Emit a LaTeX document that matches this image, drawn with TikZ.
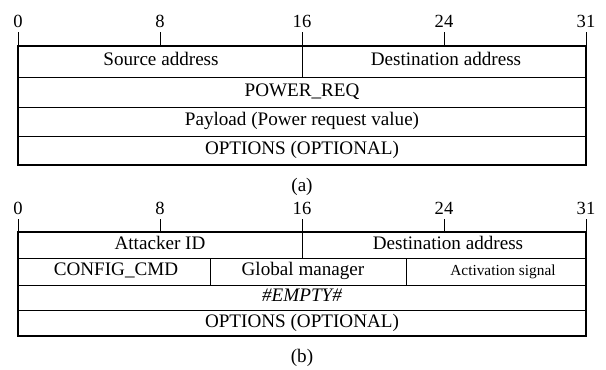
\documentclass[tikz,border=0pt]{standalone}
\usepackage{fontspec}
\setmainfont{Liberation Serif}
\usetikzlibrary{positioning}

\begin{document}
\begin{tikzpicture}[
    x=0.025cm, y=-0.025cm,
    frame/.style={draw, line width=1.6pt},
    rule/.style={draw, line width=0.6pt},
    cell/.style={inner sep=0pt, font=\fontsize{13.6}{15}\selectfont, text height=0.66em, text depth=0.08em},
    small/.style={cell, font=\fontsize{10.9}{12}\selectfont},
    bit/.style={inner sep=0pt, font=\fontsize{13.2}{15}\selectfont},
    caption/.style={inner sep=0pt, font=\fontsize{13.6}{15}\selectfont}
]
\useasboundingbox (0,0) rectangle (606,369);

% (a) power request frame
\foreach \b/\t in {0/0,8/8,16/16,24/24,32/31} {
    \draw[rule] (18+17.75*\b,32) -- (18+17.75*\b,46);
    \node[bit] (abit\b) at (18+17.75*\b,21) {\t};
}
\draw[frame] (18,46) rectangle (586,165);
\foreach \y in {77,107,136}
    \draw[rule] (18,\y) -- (586,\y);
\draw[rule] (302,46) -- (302,77);

\node[cell] (asrc) at (161,61.5) {Source address};
\node[cell] (adst) at (446,61.5) {Destination address};
\node[cell] (areq) at (302,92) {POWER\_REQ};
\node[cell] (apay) at (302,121.5) {Payload (Power request value)};
\node[cell] (aopt) at (302,150.5) {OPTIONS (OPTIONAL)};
\node[caption] (capa) at (302,187) {(a)};

% (b) attack frame
\foreach \b/\t in {0/0,8/8,16/16,24/24,32/31} {
    \draw[rule] (18+17.75*\b,219) -- (18+17.75*\b,232);
    \node[bit] (bbit\b) at (18+17.75*\b,208) {\t};
}
\draw[frame] (18,232) rectangle (586,336);
\foreach \y in {258,285,310}
    \draw[rule] (18,\y) -- (586,\y);
\draw[rule] (302,232) -- (302,258);
\draw[rule] (210,258) -- (210,285);
\draw[rule] (406,258) -- (406,285);

\node[cell] (batk) at (160,245) {Attacker ID};
\node[cell] (bdst) at (448,245) {Destination address};
\node[cell] (bcfg) at (116,271.5) {CONFIG\_CMD};
\node[cell] (bglb) at (303,271.5) {Global manager};
\node[small] (bact) at (503,271.5) {Activation signal};
\node[cell] (bemp) at (302,297.5) {\itshape \#EMPTY\#};
\node[cell] (bopt) at (302,323) {OPTIONS (OPTIONAL)};
\node[caption] (capb) at (302,358) {(b)};

\end{tikzpicture}
\end{document}
